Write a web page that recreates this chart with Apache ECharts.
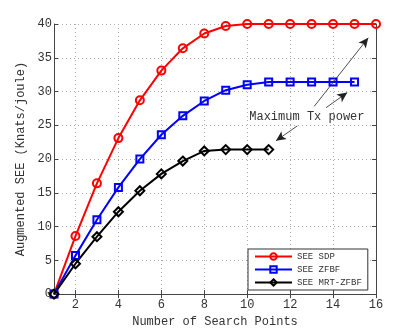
<!DOCTYPE html>
<html>
<head>
<meta charset="utf-8">
<script src="https://cdn.jsdelivr.net/npm/echarts@6/dist/echarts.min.js"></script>
<style>
  html, body { margin: 0; padding: 0; background: #fff; }
  #chart { width: 415px; height: 333px; }
</style>
</head>
<body>
<div id="chart"></div>
<script>
var points = [1, 2, 3, 4, 5, 6, 7, 8, 9, 10, 11, 12, 13, 14, 15, 16];
var seeSdp = [0, 8.6, 16.4, 23.1, 28.7, 33.1, 36.4, 38.6, 39.7, 40, 40, 40, 40, 40, 40, 40];
var seeZfbf = [0, 5.7, 11.0, 15.8, 20.0, 23.6, 26.4, 28.6, 30.2, 31.0, 31.4, 31.4, 31.4, 31.4, 31.4];
var seeMrt = [0, 4.5, 8.5, 12.2, 15.3, 17.8, 19.7, 21.2, 21.4, 21.4, 21.4];
var xTicks = [2, 4, 6, 8, 10, 12, 14, 16];
var seriesNames = ['SEE SDP', 'SEE ZFBF', 'SEE MRT-ZFBF'];

var font = 'Liberation Mono, DejaVu Sans Mono, monospace';

function pairs(vals) {
  return vals.map(function (v, i) { return [points[i], v]; });
}

function lineSeries(name, vals, color, symbol, size) {
  return {
    name: name,
    type: 'line',
    data: pairs(vals),
    color: color,
    symbol: symbol,
    symbolSize: size,
    lineStyle: { color: color, width: 2 },
    itemStyle: { color: 'rgba(255,255,255,0)', borderColor: color, borderWidth: 2 },
    emphasis: { disabled: true },
    animation: false,
    z: 3
  };
}

var arrowStyle = { color: '#222', width: 0.8, type: 'solid' };

var option = {
  animation: false,
  grid: { left: 54, right: 39, top: 24, bottom: 37 },
  legend: {
    data: seriesNames,
    orient: 'vertical',
    left: 248,
    top: 249,
    itemWidth: 37,
    itemHeight: 8,
    itemGap: 4,
    padding: [3, 6, 3, 6],
    backgroundColor: '#fff',
    borderColor: '#333',
    borderWidth: 1,
    textStyle: { fontFamily: font, fontSize: 9, color: '#333' }
  },
  xAxis: [{
    type: 'value',
    min: 1,
    max: 16,
    name: 'Number of Search Points',
    nameLocation: 'middle',
    nameGap: 16,
    nameTextStyle: { fontFamily: font, fontSize: 12, color: '#333' },
    axisLine: { lineStyle: { color: '#444', width: 1 } },
    axisTick: { inside: true, length: 4, customValues: xTicks, lineStyle: { color: '#444' } },
    axisLabel: { customValues: xTicks, fontFamily: font, fontSize: 12, color: '#333', margin: 5 },
    splitLine: { show: true, lineStyle: { color: '#aaa', type: [1, 3] } }
  }, {
    type: 'value',
    position: 'top',
    min: 1,
    max: 16,
    axisLine: { show: true, lineStyle: { color: '#444', width: 1 } },
    axisTick: { show: true, inside: true, length: 4, customValues: xTicks, lineStyle: { color: '#444' } },
    axisLabel: { show: false },
    splitLine: { show: false }
  }],
  yAxis: [{
    type: 'value',
    min: 0,
    max: 40,
    interval: 5,
    name: 'Augmented SEE (Knats/joule)',
    nameLocation: 'middle',
    nameGap: 22,
    nameTextStyle: { fontFamily: font, fontSize: 12, color: '#333' },
    axisLine: { show: true, lineStyle: { color: '#444', width: 1 } },
    axisTick: { show: true, inside: true, length: 4, lineStyle: { color: '#444' } },
    axisLabel: { fontFamily: font, fontSize: 12, color: '#333', margin: 2 },
    splitLine: { show: true, lineStyle: { color: '#aaa', type: [1, 3] } }
  }, {
    type: 'value',
    position: 'right',
    min: 0,
    max: 40,
    interval: 5,
    axisLine: { show: true, lineStyle: { color: '#444', width: 1 } },
    axisTick: { show: true, inside: true, length: 4, lineStyle: { color: '#444' } },
    axisLabel: { show: false },
    splitLine: { show: false }
  }],
  series: [
    lineSeries(seriesNames[0], seeSdp, '#ff0000', 'circle', 8),
    lineSeries(seriesNames[1], seeZfbf, '#0000ff', 'rect', 7),
    lineSeries(seriesNames[2], seeMrt, '#000000', 'diamond', 9),
    {
      name: 'annotation',
      type: 'line',
      data: [],
      silent: true,
      markPoint: {
        symbol: 'rect',
        symbolSize: 2,
        itemStyle: { color: 'rgba(255,255,255,0)' },
        label: {
          show: true,
          position: 'inside',
          formatter: 'Maximum Tx power',
          fontFamily: font,
          fontSize: 12,
          color: '#333'
        },
        data: [{ coord: [12.78, 26.3], value: 1 }]
      },
      markLine: {
        silent: true,
        symbol: ['none', 'arrow'],
        symbolSize: [7, 10],
        label: { show: false },
        lineStyle: arrowStyle,
        data: [
          [{ coord: [13.12, 27.8] }, { coord: [15.64, 37.95] }],
          [{ coord: [13.67, 27.6] }, { coord: [14.66, 29.85] }],
          [{ coord: [12.33, 24.9] }, { coord: [11.34, 22.7] }]
        ]
      }
    }
  ]
};

var myChart = echarts.init(document.getElementById('chart'));
myChart.setOption(option);
</script>
</body>
</html>
